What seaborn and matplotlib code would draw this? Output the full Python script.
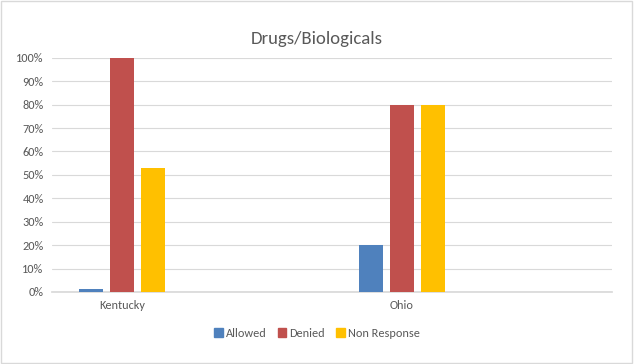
import matplotlib
matplotlib.use("Agg")
import matplotlib.pyplot as plt
import seaborn as sns
import pandas as pd
import numpy as np
from matplotlib.patches import Rectangle
from matplotlib.ticker import PercentFormatter

categories = ["Kentucky", " ", "Ohio", "  "]
allowed = [0.012, np.nan, 0.20, np.nan]
denied = [1.00, np.nan, 0.80, np.nan]
non_response = [0.53, np.nan, 0.80, np.nan]
series_names = ["Allowed", "Denied", "Non Response"]
colors = ["#4F81BD", "#C0504D", "#FFC000"]

rows = []
for i, c in enumerate(categories):
    for name, vals in zip(series_names, [allowed, denied, non_response]):
        rows.append({"State": c, "Series": name, "Value": vals[i]})
df = pd.DataFrame(rows)

sns.set_theme(style="white")
plt.rcParams['font.family'] = ['Calibri', 'Carlito', 'DejaVu Sans']

fig = plt.figure(figsize=(6.34, 3.64), dpi=100)
ax = fig.add_axes([0.082, 0.198, 0.883, 0.643])

sns.barplot(data=df, x="State", y="Value", hue="Series", order=categories,
            hue_order=series_names, palette=colors, width=0.664, gap=0.22,
            ax=ax, saturation=1, errorbar=None, linewidth=0, zorder=3)

ax.set_ylim(0, 1)
ax.set_xlim(-0.5, 3.5)
ax.set_yticks(np.arange(0, 1.01, 0.1))
ax.yaxis.set_major_formatter(PercentFormatter(1.0, decimals=0))
ax.grid(axis="y", color="#d9d9d9", linewidth=0.8, zorder=0)
ax.set_axisbelow(True)
for s in ["top", "right", "left"]:
    ax.spines[s].set_visible(False)
ax.spines["bottom"].set_color("#d9d9d9")
ax.spines["bottom"].set_zorder(1)
ax.tick_params(axis="both", length=0, labelsize=8.8, colors="#595959", pad=6)
ax.set_xlabel("")
ax.set_ylabel("")

ax.legend_.remove()
handles = [Rectangle((0, 0), 1, 1, color=c) for c in colors]
fig.legend(handles, series_names, loc="center", bbox_to_anchor=(0.5, 0.085),
           ncol=3, frameon=False, fontsize=8.8, handlelength=0.7, handleheight=0.7,
           columnspacing=0.9, handletextpad=0.25, labelcolor="#595959")

fig.suptitle("Drugs/Biologicals", y=0.915, fontsize=13.5, color="#595959")

fig.patches.append(Rectangle((0.002, 0.003), 0.995, 0.993, transform=fig.transFigure,
                             fill=False, edgecolor="#d9d9d9", linewidth=1))

fig.savefig("out.png", dpi=100)
